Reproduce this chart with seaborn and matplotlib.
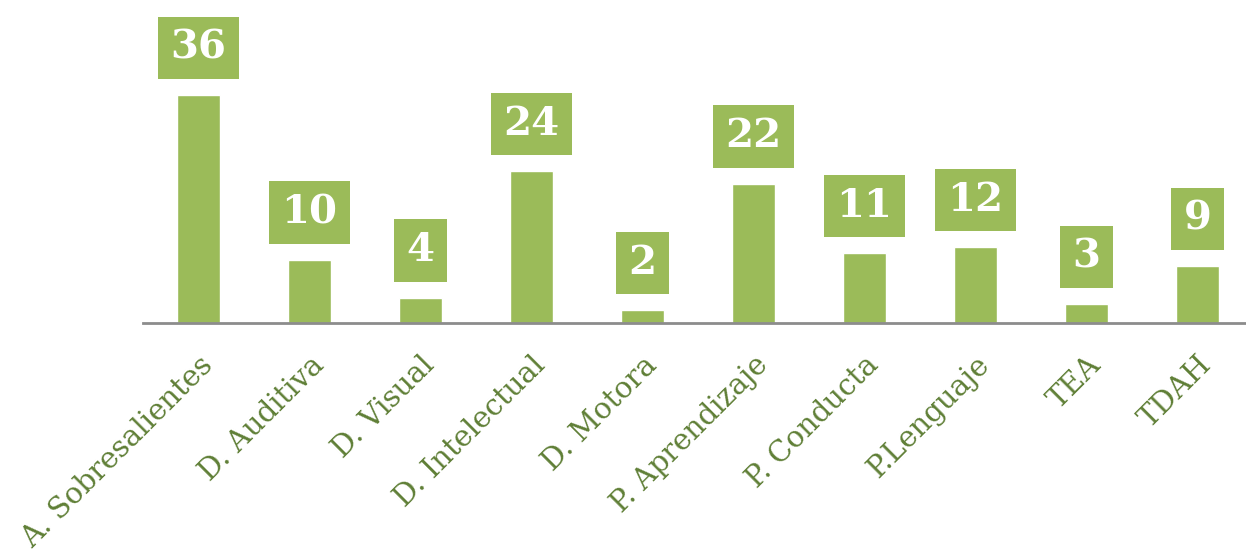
import matplotlib
matplotlib.use("Agg")
import matplotlib.pyplot as plt
import pandas as pd
import seaborn as sns

categorias = ["A. Sobresalientes", "D. Auditiva", "D. Visual", "D. Intelectual",
              "D. Motora", "P. Aprendizaje", "P. Conducta", "P.Lenguaje", "TEA", "TDAH"]
valores = [36, 10, 4, 24, 2, 22, 11, 12, 3, 9]

verde = "#9BBB59"
verde_texto = "#5F7F36"

df = pd.DataFrame({"categoria": categorias, "valor": valores})

sns.set_style("white")
plt.rcParams["font.family"] = ["DejaVu Serif"]

fig = plt.figure(figsize=(12.46, 5.54), dpi=100)
ax = fig.add_axes([143 / 1246, 231 / 554, 1110 / 1246, 323 / 554])

sns.barplot(data=df, x="categoria", y="valor", color=verde, saturation=1,
            width=0.39, ax=ax)

ax.set_xlim(-0.5, 9.5)
ax.set_ylim(0, 51)

# etiquetas en cajas verdes sobre cada barra
for i, v in enumerate(valores):
    ax.annotate(str(v), xy=(i, v), xytext=(0, 34), textcoords="offset points",
                ha="center", va="center", fontsize=29, fontweight="bold",
                color="white",
                bbox=dict(boxstyle="square,pad=0.3", fc=verde, ec="none"))

for s in ["top", "right", "left"]:
    ax.spines[s].set_visible(False)
ax.spines["bottom"].set_color("#8C8C8C")
ax.spines["bottom"].set_linewidth(2)

ax.set_yticks([])
ax.set_xlabel("")
ax.set_ylabel("")
ax.tick_params(axis="x", length=0, pad=20)
plt.setp(ax.get_xticklabels(), rotation=45, ha="right", rotation_mode="anchor",
         color=verde_texto, fontsize=21)

fig.savefig("out.png", dpi=100)
